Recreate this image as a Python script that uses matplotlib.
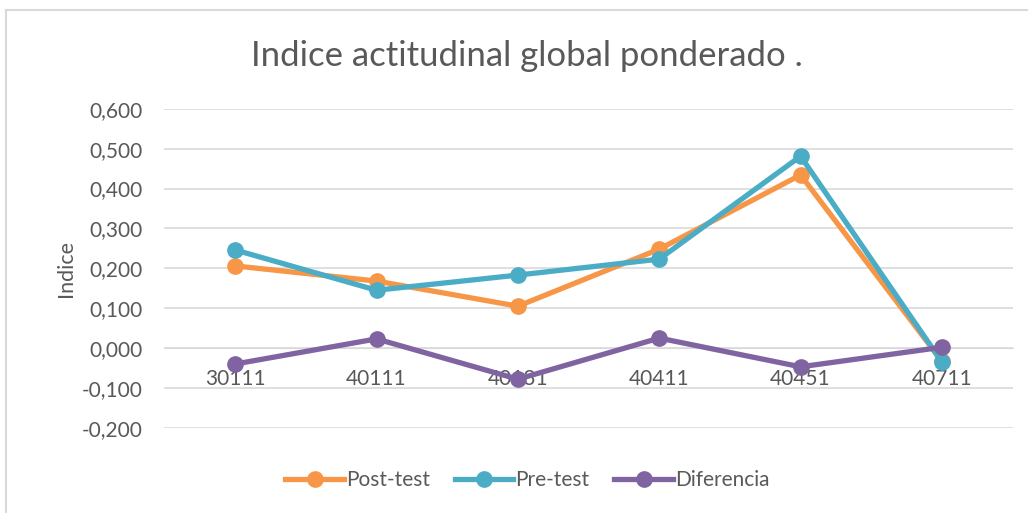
import matplotlib
matplotlib.use("Agg")
import matplotlib.pyplot as plt
from matplotlib.ticker import FuncFormatter

# data
categorias = ["30111", "40111", "40131", "40411", "40451", "40711"]
post_test = [0.206, 0.168, 0.105, 0.248, 0.434, -0.033]
pre_test = [0.246, 0.145, 0.183, 0.223, 0.481, -0.035]
diferencia = [-0.040, 0.023, -0.078, 0.025, -0.047, 0.002]

plt.rcParams['font.family'] = ['Lato', 'DejaVu Sans']
gris = "#595959"

fig = plt.figure(figsize=(10.28, 5.13), dpi=100)
ax = fig.add_axes([0.160, 0.166, 0.825, 0.622])

x = range(len(categorias))
ax.plot(x, post_test, color="#F79646", lw=3.8, marker="o", ms=11, label="Post-test", zorder=3)
ax.plot(x, pre_test, color="#4BACC6", lw=3.8, marker="o", ms=11, label="Pre-test", zorder=4)
ax.plot(x, diferencia, color="#8064A2", lw=3.8, marker="o", ms=11, label="Diferencia", zorder=5)

ax.set_ylim(-0.2, 0.6)
ax.set_xlim(-0.5, len(categorias) - 0.5)
ax.set_yticks([-0.2, -0.1, 0, 0.1, 0.2, 0.3, 0.4, 0.5, 0.6])
ax.yaxis.set_major_formatter(FuncFormatter(lambda v, p: f"{v:.3f}".replace(".", ",").replace("-0,000", "0,000")))
ax.grid(axis="y", color="#D9D9D9", lw=1.2)
ax.set_axisbelow(True)

ax.set_xticks(list(x))
ax.set_xticklabels(categorias)
for s in ["top", "right", "left"]:
    ax.spines[s].set_visible(False)
ax.spines["bottom"].set_position(("data", 0))
ax.spines["bottom"].set_color("#D9D9D9")
ax.tick_params(axis="both", length=0, labelsize=15, colors=gris)
ax.tick_params(axis="y", pad=16)
ax.tick_params(axis="x", pad=15)

ax.set_ylabel("Indice", fontsize=15.5, color=gris, labelpad=4)
fig.text(0.513, 0.89, "Indice actitudinal global ponderado .", ha="center", va="center",
         fontsize=25, color=gris)

leg = fig.legend(loc="center", bbox_to_anchor=(0.513, 0.064), ncol=3, frameon=False,
                 fontsize=15, handlelength=2.8, columnspacing=1.2, handletextpad=0.1)
for t in leg.get_texts():
    t.set_color(gris)

# chart frame (left and top only visible in crop)
fig.add_artist(plt.Line2D([0.006, 0.006], [0, 0.981], color="#D9D9D9", lw=1.5))
fig.add_artist(plt.Line2D([0.006, 1], [0.981, 0.981], color="#D9D9D9", lw=1.5))

fig.savefig("out.png", dpi=100)
